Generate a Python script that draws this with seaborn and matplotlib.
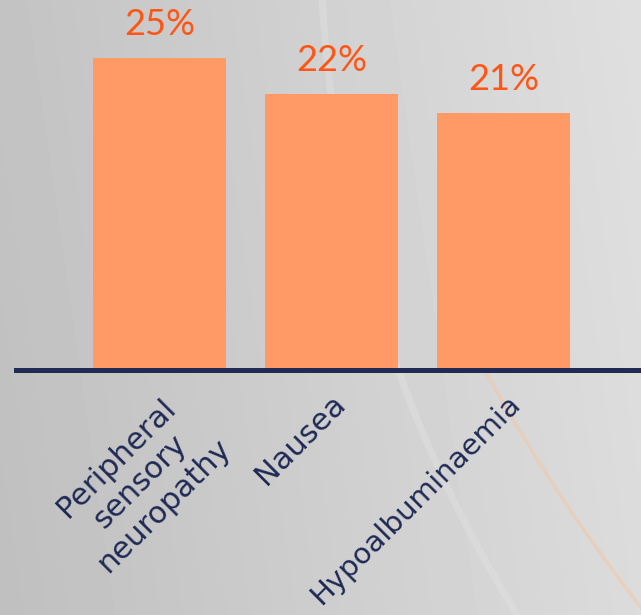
import numpy as np
import pandas as pd
import matplotlib
matplotlib.use("Agg")
import matplotlib.pyplot as plt
import matplotlib.transforms as mtransforms
from matplotlib.patches import Arc
import seaborn as sns

# ---- data ----
categories = ["Peripheral\nsensory\nneuropathy", "Nausea", "Hypoalbuminaemia"]
values = [25.0, 22.1, 20.6]
value_labels = ["25%", "22%", "21%"]

sns.set_theme(style="white")
plt.rcParams['font.family'] = ['DejaVu Sans']

W, H, DPI = 641, 615, 100
fig = plt.figure(figsize=(W / DPI, H / DPI), dpi=DPI)

# background gradient
bg = fig.add_axes([0, 0, 1, 1], zorder=-10)
xx, yy = np.meshgrid(np.linspace(0, 1, 200), np.linspace(0, 1, 200))
grad = 0.75 + 0.11 * xx + 0.015 * (1 - yy)
bg.imshow(grad, cmap="gray", vmin=0, vmax=1, extent=[0, W, H, 0], aspect="auto",
          interpolation="bicubic")
bg.add_patch(Arc((2050, -490), 2 * 1786, 2 * 1786, theta1=140, theta2=151.5,
                 color="#f3c7a6", lw=2.5, alpha=0.55))
bg.add_patch(Arc((1625, -75), 2 * 1305, 2 * 1305, theta1=140, theta2=180,
                 color="#e2e2e2", lw=5, alpha=0.45))
bg.set_xlim(0, W)
bg.set_ylim(H, 0)
bg.axis("off")

# main axes
left, right_px, base = 16, 641, 370
ax = fig.add_axes([left / W, (H - base) / H, (right_px - left) / W, base / H])
ax.patch.set_alpha(0)

df = pd.DataFrame({"cat": categories, "val": values})
sns.barplot(data=df, x="cat", y="val", color="#FF9966", saturation=1,
            width=0.773, ax=ax)
for p in ax.patches:
    p.set_edgecolor("none")

ax.set_xlim(-0.834, 2.80)
ax.set_ylim(0, 29.6)

ax.bar_label(ax.containers[0], labels=value_labels, padding=12,
             color="#FF5515", fontsize=26, family=["Lato", "DejaVu Sans"])

for s in ["top", "right", "left"]:
    ax.spines[s].set_visible(False)
ax.spines["bottom"].set_color("#1F2A55")
ax.spines["bottom"].set_linewidth(3.6)
ax.set_yticks([])
ax.set_xlabel("")
ax.set_ylabel("")
ax.tick_params(axis="x", length=0, pad=14, labelsize=22, labelcolor="#1F2A55")

shifts = [(9, 4), (-1, 0), (3, 0)]
sizes = [22, 22, 21]
for lbl, (dx, dy), fs in zip(ax.get_xticklabels(), shifts, sizes):
    offset = mtransforms.ScaledTranslation(dx / DPI, dy / DPI, fig.dpi_scale_trans)
    lbl.set_fontsize(fs)
    lbl.set_rotation(45)
    lbl.set_ha("right")
    lbl.set_va("top")
    lbl.set_rotation_mode("anchor")
    lbl.set_multialignment("center")
    lbl.set_linespacing(1.2)
    lbl.set_transform(lbl.get_transform() + offset)

fig.savefig("out.png", dpi=DPI)
